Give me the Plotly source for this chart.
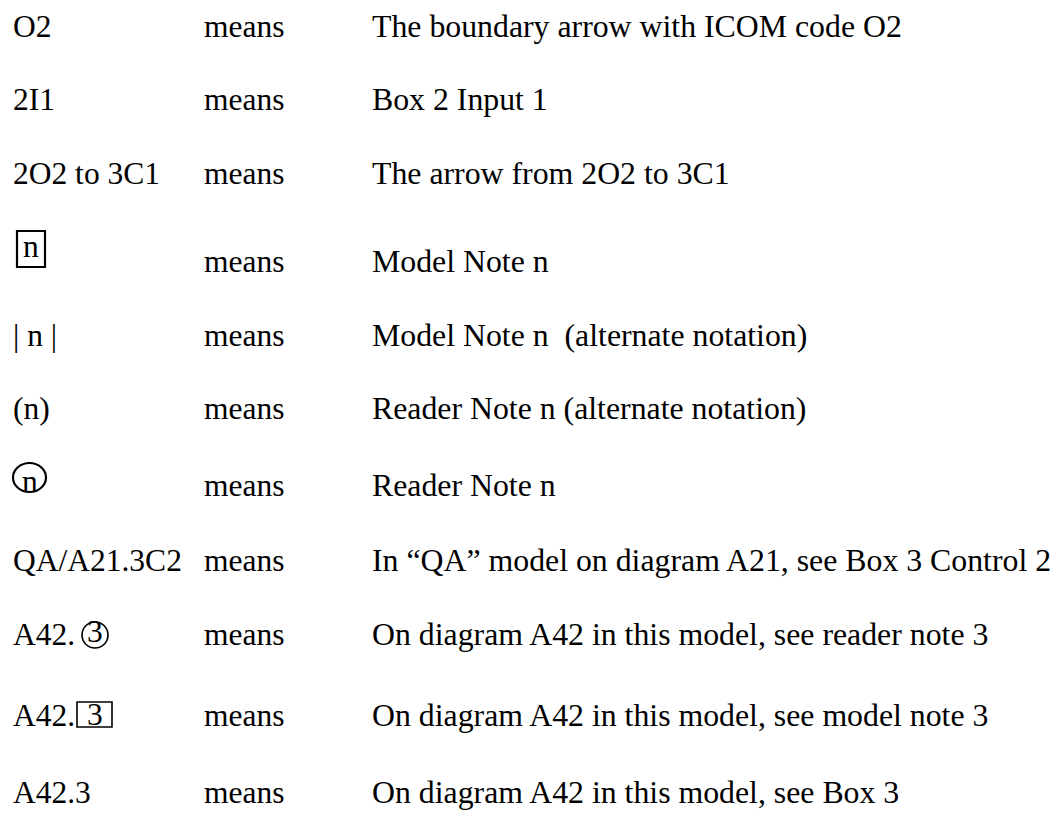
import plotly.graph_objects as go

# ---- data (text content of the legend table) ----
codes = ["O2", "2I1", "2O2 to 3C1", "", "| n |", "(n)", "", "QA/A21.3C2", "A42.", "A42.", "A42.3"]
marks = ["", "", "", "n", "", "", "n", "", "3", "3", ""]
mark_styles = ["", "", "", "box", "", "", "circle", "", "circle", "box", ""]
verbs = ["means"] * 11
meanings = [
    "The boundary arrow with ICOM code O2",
    "Box 2 Input 1",
    "The arrow from 2O2 to 3C1",
    "Model Note n",
    "Model Note n  (alternate notation)",
    "Reader Note n (alternate notation)",
    "Reader Note n",
    "In \u201cQA\u201d model on diagram A21, see Box 3 Control 2",
    "On diagram A42 in this model, see reader note 3",
    "On diagram A42 in this model, see model note 3",
    "On diagram A42 in this model, see Box 3",
]

# ---- layout constants (pixels) ----
W, H = 1058, 821
FS = 31.5
FS_MEAN = 31.8
FONT = "Liberation Serif, Times New Roman, serif"
PAD = 2  # annotation inner padding
COL_X = [13 - PAD, 204 - PAD, 372 - PAD]
baselines = [36, 109, 183, 271, 345, 418, 495, 570, 644, 725, 802]
# mark geometry per row: (x0, x1, top, bottom, text baseline, line width)
mark_geom = {
    3: (17, 45, 231, 267, 256, 2.2),
    6: (13, 46, 463, 492, 491, 2.2),
    8: (82, 108, 622, 648, 641, 1.6),
    9: (77, 112, 702, 727, 724, 1.6),
}
K = 0.29  # baseline -> text middle offset (em)

fig = go.Figure()
annotations = []
shapes = []


def add_text(x, base, txt, xanchor="left", size=FS):
    annotations.append(dict(
        x=x, y=base - K * size, xref="x", yref="y", text=txt, showarrow=False,
        xanchor=xanchor, yanchor="middle", align="left",
        font=dict(family=FONT, size=size, color="black"),
    ))


for i, (c, m, st, v, mean) in enumerate(zip(codes, marks, mark_styles, verbs, meanings)):
    b = baselines[i]
    if c:
        add_text(COL_X[0], b, c)
    if m:
        x0, x1, top, bot, tb, lw = mark_geom[i]
        add_text((x0 + x1) / 2, tb, m, xanchor="center")
        shapes.append(dict(
            type="rect" if st == "box" else "circle",
            xref="x", yref="y", x0=x0, x1=x1, y0=top, y1=bot,
            line=dict(color="black", width=lw), fillcolor="rgba(0,0,0,0)",
        ))
    add_text(COL_X[1], b, v)
    add_text(COL_X[2], b, mean, size=FS_MEAN)

fig.update_layout(
    width=W, height=H,
    margin=dict(l=0, r=0, t=0, b=0),
    paper_bgcolor="white", plot_bgcolor="white",
    xaxis=dict(range=[0, W], visible=False, fixedrange=True),
    yaxis=dict(range=[H, 0], visible=False, fixedrange=True),
    annotations=annotations, shapes=shapes,
    showlegend=False,
)
fig.write_html(
    "out.html",
    config={"displayModeBar": False},
    post_script="document.body.style.margin='0';document.body.style.overflow='hidden';",
)
